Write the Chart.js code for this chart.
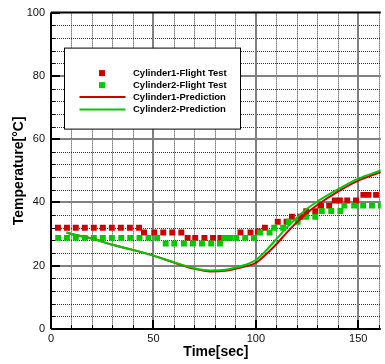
<!DOCTYPE html>
<html>
<head>
<meta charset="utf-8">
<script src="https://cdn.jsdelivr.net/npm/chart.js@4"></script>
<style>
  html, body { margin: 0; padding: 0; background: #fff; }
  canvas { display: block; }
</style>
</head>
<body>
<canvas id="grafico" width="385" height="364"></canvas>
<script>
// series labels
const seriesNames = ['Cylinder1-Flight Test', 'Cylinder2-Flight Test', 'Cylinder1-Prediction', 'Cylinder2-Prediction'];

// flight test, cylinder 1
const testTime1 = [3.4, 7.8, 12.1, 16.5, 20.9, 25.3, 29.7, 34.1, 38.5, 43.0,
  45.4, 50.4, 54.8, 59.2, 63.6, 66.7, 70.4, 74.9, 79.1, 82.7, 87.0,
  92.5, 97.4, 101.0, 104.4, 110.7, 115.0, 117.6, 121.7, 124.6, 129.0,
  131.8, 135.8, 138.5, 141.0, 144.6, 148.9, 152.5, 155.0, 158.7];
const testTemp1 = [32, 32, 32, 32, 32, 32, 32, 32, 32, 32,
  30.5, 30.5, 30.5, 30.5, 30.5, 28.8, 28.8, 28.8, 28.8, 28.8, 28.8,
  30.5, 30.5, 30.8, 32, 33.9, 33.9, 35.5, 35.5, 37.2, 37.2,
  39, 39, 40.6, 40.6, 40.6, 40.6, 42.4, 42.4, 42.4];

// flight test, cylinder 2
const testTime2 = [3.5, 7.8, 12.1, 16.5, 20.9, 25.3, 29.7, 34.3, 38.7, 43.2, 47.6, 51.8,
  56.0, 60.2, 64.9, 69.3, 73.7, 78.2, 82.5,
  84.6, 87.4, 90.4, 94.8, 99.0, 102.0, 106.7, 109.0, 113.3, 116.0, 120.4,
  124.5, 129.0, 132.2, 136.8, 141.3, 143.2, 148.0, 152.4, 156.7, 161.0];
const testTemp2 = [28.8, 28.8, 28.8, 28.8, 28.8, 28.8, 28.8, 28.8, 28.8, 28.8, 28.8, 28.8,
  27, 27, 27, 27, 27, 27, 27,
  28.8, 28.8, 28.8, 28.8, 28.8, 30.5, 30.5, 32, 32, 33.9, 33.9,
  35.5, 35.5, 37.3, 37.3, 37.3, 39, 39, 39, 39, 39];

// prediction curves
const predTime = [7.6, 10, 20, 30, 40, 50, 60, 70, 78, 85, 90, 95, 100, 105, 110, 115, 120, 125, 130, 140, 150, 161];
const predTemp1 = [30.5, 30.0, 28.6, 26.6, 25.0, 23.2, 21.0, 19.0, 18.2, 18.4, 19.0, 19.8, 20.9, 23.6, 26.8, 30.4, 33.7, 36.7, 39.2, 43.4, 46.9, 49.6];
const predTemp2 = [30.5, 30.0, 28.6, 26.6, 25.0, 23.2, 21.1, 19.2, 18.5, 18.7, 19.4, 20.3, 21.8, 24.8, 28.4, 32.0, 35.2, 38.0, 40.3, 44.1, 47.5, 50.1];

// axis ticks
const xTicks = [0, 50, 100, 150];
const yTicks = [0, 20, 40, 60, 80, 100];

const rojo = 'rgb(208, 0, 0)';
const verde = 'rgb(0, 204, 0)';

function pares(xs, ys) {
  return xs.map((x, i) => ({ x: x, y: ys[i] }));
}

// grid: dotted minor lines, solid grey major lines
const rejilla = {
  id: 'rejilla',
  beforeDatasetsDraw(chart) {
    const { ctx, chartArea: a, scales: { x, y } } = chart;
    ctx.save();
    for (let v = 10; v <= 160; v += 10) {
      const px = Math.round(x.getPixelForValue(v)) + 0.5;
      if (v % 50 === 0) continue;
      ctx.strokeStyle = '#333';
      ctx.lineWidth = 1;
      ctx.setLineDash([1, 1]);
      ctx.beginPath(); ctx.moveTo(px, a.top); ctx.lineTo(px, a.bottom); ctx.stroke();
    }
    for (let v = 4; v < 100; v += 4) {
      if (v % 20 === 0) continue;
      const py = Math.round(y.getPixelForValue(v)) + 0.5;
      ctx.strokeStyle = '#333';
      ctx.lineWidth = 1;
      ctx.setLineDash([1, 1]);
      ctx.beginPath(); ctx.moveTo(a.left, py); ctx.lineTo(a.right, py); ctx.stroke();
    }
    ctx.setLineDash([]);
    ctx.strokeStyle = '#808080';
    ctx.lineWidth = 2;
    xTicks.forEach(v => {
      if (v === 0) return;
      const px = Math.round(x.getPixelForValue(v));
      ctx.beginPath(); ctx.moveTo(px, a.top); ctx.lineTo(px, a.bottom); ctx.stroke();
    });
    yTicks.forEach(v => {
      if (v === 0 || v === 100) return;
      const py = Math.round(y.getPixelForValue(v));
      ctx.beginPath(); ctx.moveTo(a.left, py); ctx.lineTo(a.right, py); ctx.stroke();
    });
    ctx.restore();
  },
  afterDatasetsDraw(chart) {
    const { ctx, chartArea: a, scales: { x, y } } = chart;
    ctx.save();
    ctx.strokeStyle = '#000';
    // small inward ticks
    ctx.lineWidth = 1;
    for (let v = 4; v < 100; v += 4) {
      const py = Math.round(y.getPixelForValue(v)) + 0.5;
      ctx.beginPath(); ctx.moveTo(a.left, py); ctx.lineTo(a.left + 4, py); ctx.stroke();
    }
    for (let v = 10; v <= 160; v += 10) {
      const px = Math.round(x.getPixelForValue(v)) + 0.5;
      ctx.beginPath(); ctx.moveTo(px, a.bottom); ctx.lineTo(px, a.bottom - 4); ctx.stroke();
    }
    ctx.lineWidth = 2;
    yTicks.forEach(v => {
      const py = Math.round(y.getPixelForValue(v));
      ctx.beginPath(); ctx.moveTo(a.left, py); ctx.lineTo(a.left + 9, py); ctx.stroke();
    });
    xTicks.forEach(v => {
      const px = Math.round(x.getPixelForValue(v));
      ctx.beginPath(); ctx.moveTo(px, a.bottom); ctx.lineTo(px, a.bottom - 9); ctx.stroke();
    });
    // frame
    ctx.beginPath();
    ctx.moveTo(a.left, a.top); ctx.lineTo(a.right, a.top);
    ctx.moveTo(a.left, a.top); ctx.lineTo(a.left, a.bottom);
    ctx.moveTo(a.left, a.bottom); ctx.lineTo(a.right, a.bottom);
    ctx.stroke();

    // legend box
    const bx = a.left + 13.5, by = a.top + 35.5, bw = 176, bh = 81;
    ctx.fillStyle = '#fff';
    ctx.fillRect(bx, by, bw, bh);
    ctx.lineWidth = 1;
    ctx.strokeStyle = '#000';
    ctx.strokeRect(bx, by, bw, bh);
    ctx.font = 'bold 9.5px "Liberation Sans", Arial, sans-serif';
    ctx.textBaseline = 'middle';
    ctx.textAlign = 'left';
    const filas = [25, 37, 49, 61.5];
    seriesNames.forEach((nombre, i) => {
      const cy = by + filas[i];
      const color = i % 2 === 0 ? rojo : verde;
      if (i < 2) {
        ctx.fillStyle = color;
        ctx.fillRect(bx + 34.5, cy - 3, 6, 6);
      } else {
        ctx.strokeStyle = color;
        ctx.lineWidth = 2;
        ctx.beginPath(); ctx.moveTo(bx + 15, cy); ctx.lineTo(bx + 61, cy); ctx.stroke();
      }
      ctx.fillStyle = '#000';
      ctx.fillText(nombre, bx + 68.5, cy);
    });
    ctx.restore();
  }
};

const ctx = document.getElementById('grafico').getContext('2d');
new Chart(ctx, {
  type: 'scatter',
  data: {
    datasets: [
      {
        label: seriesNames[0],
        data: pares(testTime1, testTemp1),
        backgroundColor: rojo,
        borderWidth: 0,
        pointStyle: 'rect',
        pointRadius: 4.2,
        order: 3
      },
      {
        label: seriesNames[1],
        data: pares(testTime2, testTemp2),
        backgroundColor: verde,
        borderWidth: 0,
        pointStyle: 'rect',
        pointRadius: 4.2,
        order: 2
      },
      {
        label: seriesNames[2],
        type: 'line',
        data: pares(predTime, predTemp1),
        borderColor: rojo,
        borderWidth: 2,
        pointRadius: 0,
        cubicInterpolationMode: 'monotone',
        fill: false,
        order: 1
      },
      {
        label: seriesNames[3],
        type: 'line',
        data: pares(predTime, predTemp2),
        borderColor: verde,
        borderWidth: 2,
        pointRadius: 0,
        cubicInterpolationMode: 'monotone',
        fill: false,
        order: 0
      }
    ]
  },
  options: {
    responsive: false,
    animation: false,
    events: [],
    layout: { padding: { top: 10, right: 2, left: 0, bottom: 0 } },
    plugins: {
      legend: { display: false },
      tooltip: { enabled: false }
    },
    scales: {
      x: {
        type: 'linear',
        min: 0,
        max: 161,
        afterFit: s => { s.height = 35; },
        afterBuildTicks: s => { s.ticks = xTicks.map(v => ({ value: v })); },
        grid: { display: false, drawTicks: false },
        border: { display: false },
        ticks: {
          padding: 3,
          color: '#111',
          font: { family: '"Liberation Sans", Arial, sans-serif', size: 11 }
        },
        title: {
          display: true,
          text: 'Time[sec]',
          color: '#000',
          padding: { top: 0, bottom: 3 },
          font: { family: '"Liberation Sans", Arial, sans-serif', size: 14, weight: 'bold' }
        }
      },
      y: {
        min: 0,
        max: 100,
        afterFit: s => { s.width = 51; },
        afterBuildTicks: s => { s.ticks = yTicks.map(v => ({ value: v })); },
        grid: { display: false, drawTicks: false },
        border: { display: false },
        ticks: {
          padding: 6,
          color: '#111',
          font: { family: '"Liberation Sans", Arial, sans-serif', size: 11 }
        },
        title: {
          display: true,
          text: 'Temperature[°C]',
          color: '#000',
          padding: { top: 11, bottom: 0 },
          font: { family: '"Liberation Sans", Arial, sans-serif', size: 14, weight: 'bold' }
        }
      }
    }
  },
  plugins: [rejilla]
});
</script>
</body>
</html>
